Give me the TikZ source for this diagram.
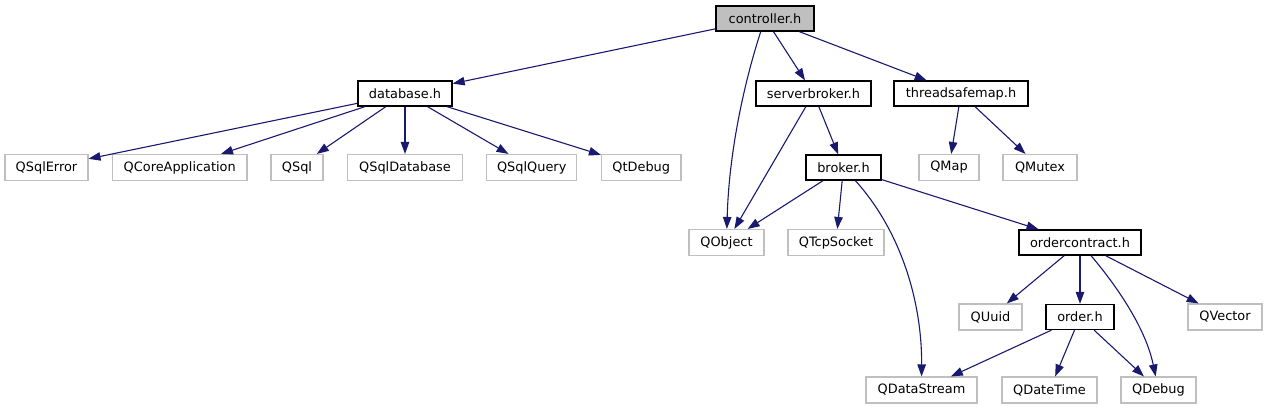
\documentclass[tikz,border=0pt]{standalone}
\usepackage{fontspec}
\setmainfont{DejaVu Sans}
\usetikzlibrary{arrows.meta}
\definecolor{edgeblue}{HTML}{191970}
\definecolor{rootfill}{HTML}{BFBFBF}
\definecolor{extgray}{HTML}{BFBFBF}
\tikzset{
  box/.style={rectangle, inner sep=0pt, minimum height=25bp, font=\fontsize{12.9bp}{15bp}\selectfont, text=black},
  docbox/.style={box, draw=black, line width=1.3bp},
  rootbox/.style={docbox, fill=rootfill},
  extbox/.style={box, draw=extgray, line width=1.1bp, minimum height=26bp},
  edge/.style={draw=edgeblue, line width=1.1bp, -{Triangle[length=12bp,width=8.5bp]}, fill=none},
}
\begin{document}
\begin{tikzpicture}[x=1bp,y=-1bp]
\useasboundingbox (0,0) rectangle (1267,411);
% row 1
\node[rootbox, minimum width=98bp] (ctrl) at (765,18.5) {controller.h};
% row 2
\node[docbox, minimum width=94bp] (db) at (405,93.5) {database.h};
\node[docbox, minimum width=115bp] (sb) at (813.5,93.5) {serverbroker.h};
\node[docbox, minimum width=134bp] (tsm) at (961,93.5) {threadsafemap.h};
% row 3
\node[extbox, minimum width=83bp] (qsqlerror) at (46.5,167.5) {QSqlError};
\node[extbox, minimum width=134.5bp] (qcore) at (179.75,167.5) {QCoreApplication};
\node[extbox, minimum width=52bp] (qsql) at (297,167.5) {QSql};
\node[extbox, minimum width=115bp] (qsqldb) at (405,167.5) {QSqlDatabase};
\node[extbox, minimum width=90bp] (qsqlquery) at (531.75,167.5) {QSqlQuery};
\node[extbox, minimum width=79.5bp] (qtdebug) at (641.25,167.5) {QtDebug};
\node[docbox, minimum width=75bp] (broker) at (843.5,167.5) {broker.h};
\node[extbox, minimum width=60bp] (qmap) at (949,167.5) {QMap};
\node[extbox, minimum width=74bp] (qmutex) at (1040,167.5) {QMutex};
% row 4
\node[extbox, minimum width=75bp] (qobject) at (726.5,242.5) {QObject};
\node[extbox, minimum width=96bp] (qtcp) at (836,242.5) {QTcpSocket};
\node[docbox, minimum width=122bp] (oc) at (1080,242.5) {ordercontract.h};
% row 5
\node[extbox, minimum width=63bp] (quuid) at (990.5,317) {QUuid};
\node[docbox, minimum width=68bp] (order) at (1080,317) {order.h};
\node[extbox, minimum width=74bp] (qvector) at (1225,317) {QVector};
% row 6
\node[extbox, minimum width=111bp] (qds) at (921.5,390) {QDataStream};
\node[extbox, minimum width=95bp] (qdt) at (1049.5,390) {QDateTime};
\node[extbox, minimum width=75bp] (qdebug) at (1158.5,390) {QDebug};

% edges
\draw[edge] (ctrl) -- (db);
\draw[edge] (ctrl) .. controls (745,80) and (729,150) .. (qobject);
\draw[edge] (ctrl) -- (sb);
\draw[edge] (ctrl) -- (tsm);
\draw[edge] (sb) -- (qobject);
\draw[edge] (sb) -- (broker);
\draw[edge] (broker) -- (qobject);
\draw[edge] (broker) -- (qtcp);
\draw[edge] (broker) .. controls (900,230) and (922,300) .. (qds);
\draw[edge] (broker) -- (oc);
\draw[edge] (tsm) -- (qmap);
\draw[edge] (tsm) -- (qmutex);
\draw[edge] (db) -- (qsqlerror);
\draw[edge] (db) -- (qcore);
\draw[edge] (db) -- (qsql);
\draw[edge] (db) -- (qsqldb);
\draw[edge] (db) -- (qsqlquery);
\draw[edge] (db) -- (qtdebug);
\draw[edge] (oc) -- (quuid);
\draw[edge] (oc) -- (order);
\draw[edge] (oc) .. controls (1120,290) and (1146,330) .. (qdebug);
\draw[edge] (oc) -- (qvector);
\draw[edge] (order) -- (qds);
\draw[edge] (order) -- (qdt);
\draw[edge] (order) -- (qdebug);
\end{tikzpicture}
\end{document}
